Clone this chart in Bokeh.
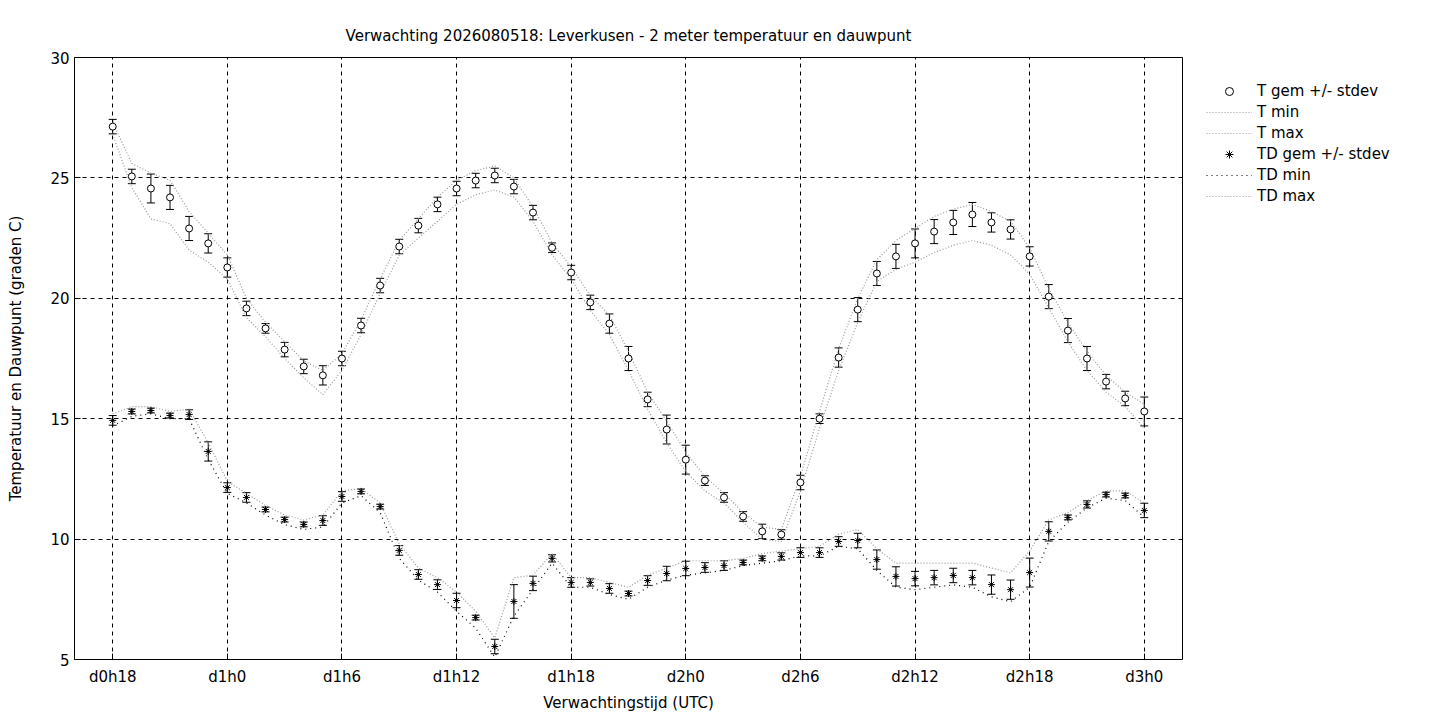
from bokeh.plotting import figure
from bokeh.models import ColumnDataSource, Whisker, TeeHead, Legend, LegendItem, FixedTicker, Range1d
from bokeh.embed import file_html
from bokeh.resources import INLINE

hours = list(range(18, 73))
tick_hours = [18, 24, 30, 36, 42, 48, 54, 60, 66, 72]
tick_labels = ["d0h18", "d1h0", "d1h6", "d1h12", "d1h18", "d2h0", "d2h6", "d2h12", "d2h18", "d3h0"]

t_mean = [27.13, 25.06, 24.56, 24.19, 22.9, 22.28, 21.28, 19.58, 18.75, 17.87, 17.17, 16.8, 17.5, 18.87,
          20.53, 22.15, 23.02, 23.9, 24.56, 24.89, 25.1, 24.64, 23.56, 22.1, 21.07, 19.83, 18.95, 17.5,
          15.8, 14.55, 13.3, 12.43, 11.73, 10.94, 10.32, 10.19, 12.35, 15.0, 17.54, 19.53, 21.03, 21.74,
          22.28, 22.77, 23.15, 23.48, 23.15, 22.86, 21.74, 20.07, 18.66, 17.5, 16.54, 15.84, 15.3]
t_sd = [0.3, 0.3, 0.6, 0.5, 0.5, 0.4, 0.4, 0.3, 0.2, 0.3, 0.3, 0.4, 0.3, 0.3, 0.3, 0.3, 0.3, 0.3, 0.3,
        0.3, 0.3, 0.3, 0.3, 0.2, 0.3, 0.3, 0.4, 0.5, 0.3, 0.6, 0.6, 0.2, 0.2, 0.2, 0.3, 0.2, 0.3, 0.2,
        0.4, 0.5, 0.5, 0.5, 0.6, 0.5, 0.5, 0.5, 0.4, 0.4, 0.4, 0.5, 0.5, 0.5, 0.3, 0.3, 0.6]
t_max = [27.3, 25.6, 25.2, 24.9, 23.6, 22.7, 21.8, 20.0, 19.0, 18.2, 17.4, 17.0, 17.7, 19.1, 20.8, 22.4,
         23.3, 24.2, 24.9, 25.3, 25.5, 25.0, 23.8, 22.3, 21.3, 20.1, 19.3, 17.8, 16.1, 14.9, 13.6, 12.6,
         11.9, 11.1, 10.5, 10.4, 12.6, 15.3, 17.9, 20.0, 21.6, 22.4, 22.9, 23.4, 23.7, 23.9, 23.6, 23.2,
         22.1, 20.4, 19.0, 17.8, 16.8, 16.1, 15.6]
t_min = [26.8, 24.6, 23.3, 23.1, 22.0, 21.5, 20.8, 19.2, 18.4, 17.5, 16.7, 16.0, 17.0, 18.5, 20.2, 21.8,
         22.5, 23.2, 23.9, 24.3, 24.5, 24.2, 23.2, 21.8, 20.8, 19.5, 18.5, 17.0, 15.4, 14.0, 12.8, 12.0,
         11.5, 10.7, 10.0, 9.9, 12.0, 14.6, 17.0, 19.0, 20.7, 21.2, 21.5, 21.9, 22.2, 22.4, 22.2, 21.8,
         21.0, 19.6, 18.2, 17.0, 16.1, 15.5, 14.6]

td_mean = [14.93, 15.3, 15.34, 15.13, 15.17, 13.64, 12.14, 11.73, 11.23, 10.81, 10.61, 10.77, 11.77, 11.98,
           11.35, 9.53, 8.53, 8.11, 7.45, 6.74, 5.54, 7.41, 8.16, 9.2, 8.2, 8.2, 7.95, 7.74, 8.28, 8.57,
           8.78, 8.82, 8.9, 9.03, 9.2, 9.28, 9.44, 9.44, 9.9, 9.94, 9.15, 8.45, 8.36, 8.4, 8.49, 8.4, 8.11,
           7.9, 8.61, 10.32, 10.9, 11.44, 11.85, 11.81, 11.19]
td_sd = [0.2, 0.1, 0.1, 0.1, 0.2, 0.4, 0.2, 0.2, 0.1, 0.1, 0.1, 0.2, 0.2, 0.1, 0.1, 0.2, 0.2, 0.2, 0.3,
         0.1, 0.3, 0.7, 0.3, 0.15, 0.2, 0.15, 0.2, 0.1, 0.2, 0.3, 0.3, 0.2, 0.2, 0.1, 0.1, 0.15, 0.2, 0.2,
         0.2, 0.3, 0.4, 0.4, 0.3, 0.3, 0.3, 0.3, 0.4, 0.4, 0.6, 0.4, 0.1, 0.15, 0.1, 0.1, 0.3]
td_max = [15.2, 15.5, 15.5, 15.3, 15.4, 14.0, 12.4, 11.9, 11.4, 11.0, 10.8, 11.0, 12.0, 12.1, 11.5, 9.8,
          8.8, 8.4, 7.8, 7.0, 5.9, 8.4, 8.5, 9.4, 8.4, 8.4, 8.2, 8.0, 8.5, 8.8, 9.1, 9.1, 9.1, 9.2, 9.4,
          9.5, 9.6, 9.7, 10.2, 10.4, 9.6, 9.0, 9.0, 9.0, 9.0, 9.0, 8.8, 8.6, 9.5, 10.8, 11.1, 11.6, 12.0,
          12.0, 11.5]
td_min = [14.7, 15.1, 15.2, 15.0, 15.0, 13.3, 11.9, 11.5, 11.0, 10.6, 10.4, 10.5, 11.5, 11.8, 11.1, 9.2,
          8.3, 7.8, 7.0, 6.3, 5.1, 6.8, 7.9, 9.0, 8.0, 8.0, 7.7, 7.5, 8.0, 8.3, 8.5, 8.6, 8.7, 8.9, 9.0,
          9.1, 9.3, 9.3, 9.7, 9.6, 8.7, 8.0, 7.9, 8.0, 8.1, 8.0, 7.6, 7.4, 8.0, 9.9, 10.7, 11.3, 11.7,
          11.6, 10.9]

FONT = "DejaVu Sans"

src = ColumnDataSource(dict(
    x=hours, t=t_mean, tlo=[m - s for m, s in zip(t_mean, t_sd)], thi=[m + s for m, s in zip(t_mean, t_sd)],
    td=td_mean, tdlo=[m - s for m, s in zip(td_mean, td_sd)], tdhi=[m + s for m, s in zip(td_mean, td_sd)],
    tmax=t_max, tmin=t_min, tdmax=td_max, tdmin=td_min))

p = figure(frame_width=1108, frame_height=602, output_backend="svg", toolbar_location=None,
           x_range=Range1d(16, 74), y_range=Range1d(5, 30),
           title="Verwachting 2026080518: Leverkusen - 2 meter temperatuur en dauwpunt",
           min_border_left=74, min_border_right=0, min_border_top=57, min_border_bottom=53)
p.outline_line_color = "black"
p.title.align = "center"
p.title.text_font = FONT
p.title.text_font_size = "15px"
p.title.text_font_style = "normal"
p.title.text_color = "black"
p.title.offset = 0
p.title.standoff = 26

for ax in (p.xaxis, p.yaxis):
    ax.major_label_text_font = FONT
    ax.major_label_text_font_size = "15px"
    ax.major_label_text_color = "black"
    ax.axis_label_text_font = FONT
    ax.axis_label_text_font_size = "15px"
    ax.axis_label_text_font_style = "normal"
    ax.axis_label_text_color = "black"
    ax.major_tick_in = 6
    ax.major_tick_out = 0
    ax.major_tick_line_color = "black"
    ax.minor_tick_line_color = None
    ax.axis_line_color = None
p.xaxis.ticker = FixedTicker(ticks=tick_hours)
p.xaxis.major_label_overrides = {h: l for h, l in zip(tick_hours, tick_labels)}
p.yaxis.ticker = FixedTicker(ticks=[5, 10, 15, 20, 25, 30])
p.xaxis.axis_label = "Verwachtingstijd (UTC)"
p.yaxis.axis_label = "Temperatuur en Dauwpunt (graden C)"
p.yaxis.axis_label_standoff = 22
p.xaxis.major_label_standoff = 8

for g in (p.xgrid, p.ygrid):
    g.grid_line_color = "black"
    g.grid_line_dash = "4 4"
    g.grid_line_width = 1
p.ygrid.ticker = FixedTicker(ticks=[10, 15, 20, 25])

r_tmin = p.line("x", "tmin", source=src, line_color="#999999", line_dash="1 2", line_width=1.2)
r_tmax = p.line("x", "tmax", source=src, line_color="#999999", line_dash="1 2", line_width=1.2)
r_tdmin = p.line("x", "tdmin", source=src, line_color="black", line_dash="1 4", line_width=1.2)
r_tdmax = p.line("x", "tdmax", source=src, line_color="#999999", line_dash="1 2", line_width=1.2)

for lo, hi in (("tlo", "thi"), ("tdlo", "tdhi")):
    p.add_layout(Whisker(base="x", lower=lo, upper=hi, source=src, line_color="black", line_width=1,
                         lower_head=TeeHead(size=8, line_color="black"),
                         upper_head=TeeHead(size=8, line_color="black")))

r_t = p.scatter("x", "t", source=src, marker="circle", size=7, fill_color="white", line_color="black")
r_td = p.scatter("x", "td", source=src, marker="asterisk", size=7, line_color="black")

legend = Legend(items=[
    LegendItem(label="T gem +/- stdev", renderers=[r_t]),
    LegendItem(label="T min", renderers=[r_tmin]),
    LegendItem(label="T max", renderers=[r_tmax]),
    LegendItem(label="TD gem +/- stdev", renderers=[r_td]),
    LegendItem(label="TD min", renderers=[r_tdmin]),
    LegendItem(label="TD max", renderers=[r_tdmax]),
], location="top_left", border_line_color=None, background_fill_alpha=0,
    label_text_font=FONT, label_text_font_size="15px", label_text_color="black",
    label_height=12, spacing=1, glyph_width=46, padding=0, margin=24)
p.add_layout(legend, "right")

open("out.html", "w").write(file_html(p, INLINE))
